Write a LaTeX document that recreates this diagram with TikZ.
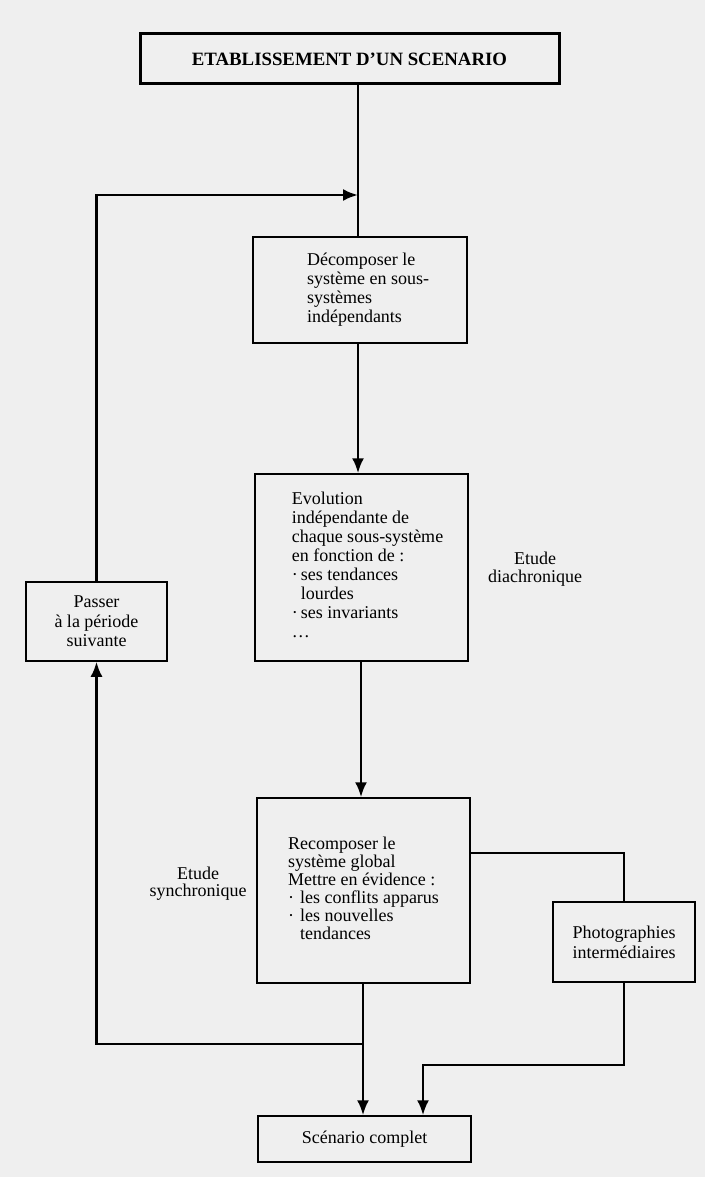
\documentclass[tikz,border=0pt]{standalone}
\usepackage{fontspec}
\setmainfont{Liberation Serif}
\usetikzlibrary{arrows.meta}
\definecolor{bg}{RGB}{239,239,239}
\newcommand\mybul[1]{\makebox[#1][l]{·}}
\begin{document}
\begin{tikzpicture}[x=1pt,y=-1pt,
  box/.style={draw, line width=1.5pt, fill=bg, inner sep=0pt},
  conn/.style={line width=2.5pt},
  arr/.style={conn, -{Latex[length=15pt,width=12pt]}},
  lbl/.style={align=center, inner sep=0pt}
]
\fill[bg] (0,0) rectangle (705,1177);
\useasboundingbox (0,0) rectangle (705,1177);

\node[box, line width=3pt, minimum width=419pt, minimum height=50pt,
      font=\bfseries\fontsize{18.8}{20}\selectfont] (title) at (349.5,59) {ETABLISSEMENT D’UN SCENARIO};

\node[box, minimum width=214pt, minimum height=106pt, font=\fontsize{18}{19}\selectfont]
  (b1) at (360,290) {\begin{tabular}{@{\hspace{16pt}}l@{}}Décomposer le\\système en sous-\\systèmes\\indépendants\end{tabular}};

\node[box, minimum width=213pt, minimum height=187pt, font=\fontsize{18}{19}\selectfont]
  (b2) at (361.5,567.5) {\begin{tabular}{@{\hspace{12pt}}l@{}}Evolution\\indépendante de\\chaque sous-système\\en fonction de :\\\mybul{9pt}ses tendances\\\hspace*{9pt}lourdes\\\mybul{9pt}ses invariants\\\ldots\end{tabular}};

\node[box, align=center, minimum width=141pt, minimum height=79pt, font=\fontsize{18}{19.5}\selectfont]
  (pas) at (96.5,621.5) {Passer\\à la période\\suivante};

\node[box, minimum width=213pt, minimum height=185pt, font=\fontsize{18}{18}\selectfont]
  (b3) at (363.5,890.5) {\begin{tabular}{@{}l@{}}Recomposer le\\système global\\Mettre en évidence :\\\mybul{12pt}les conflits apparus\\\mybul{12pt}les nouvelles\\\hspace*{12pt}tendances\end{tabular}};

\node[box, align=center, minimum width=142pt, minimum height=80pt, font=\fontsize{18}{20}\selectfont]
  (photo) at (624,942) {Photographies\\intermédiaires};

\node[box, align=center, minimum width=213pt, minimum height=46pt, font=\fontsize{18}{20}\selectfont]
  (scen) at (364.5,1139) {Scénario complet};

\node[lbl, font=\fontsize{18}{18}\selectfont] (dia) at (535,569) {Etude\\diachronique};
\node[lbl, font=\fontsize{18}{17}\selectfont] (syn) at (198,884) {Etude\\synchronique};

\coordinate (ax) at (358,0);
\coordinate (ax2) at (361,0);
\coordinate (ax3) at (363,0);
\coordinate (tl) at (96,195);
\coordinate (jb) at (363,1044);
\coordinate (rj) at (0,853);
\coordinate (rb) at (423,1065);

\draw[conn] (title.south -| ax) -- (b1.north -| ax);
\draw[arr] (b1.south -| ax) -- (b2.north -| ax);
\draw[arr] (b2.south -| ax2) -- (b3.north -| ax2);
\draw[arr] (b3.south -| ax3) -- (scen.north -| ax3);
\draw[arr] (jb) -- (jb -| pas.south) -- (pas.south);
\draw[arr] (pas.north) -- (pas.north |- tl) -- (tl -| ax);
\draw[conn] (b3.east |- rj) -- (rj -| photo.north) -- (photo.north);
\draw[arr] (photo.south) -- (photo.south |- rb) -- (rb) -- (rb |- scen.north);
\end{tikzpicture}
\end{document}
